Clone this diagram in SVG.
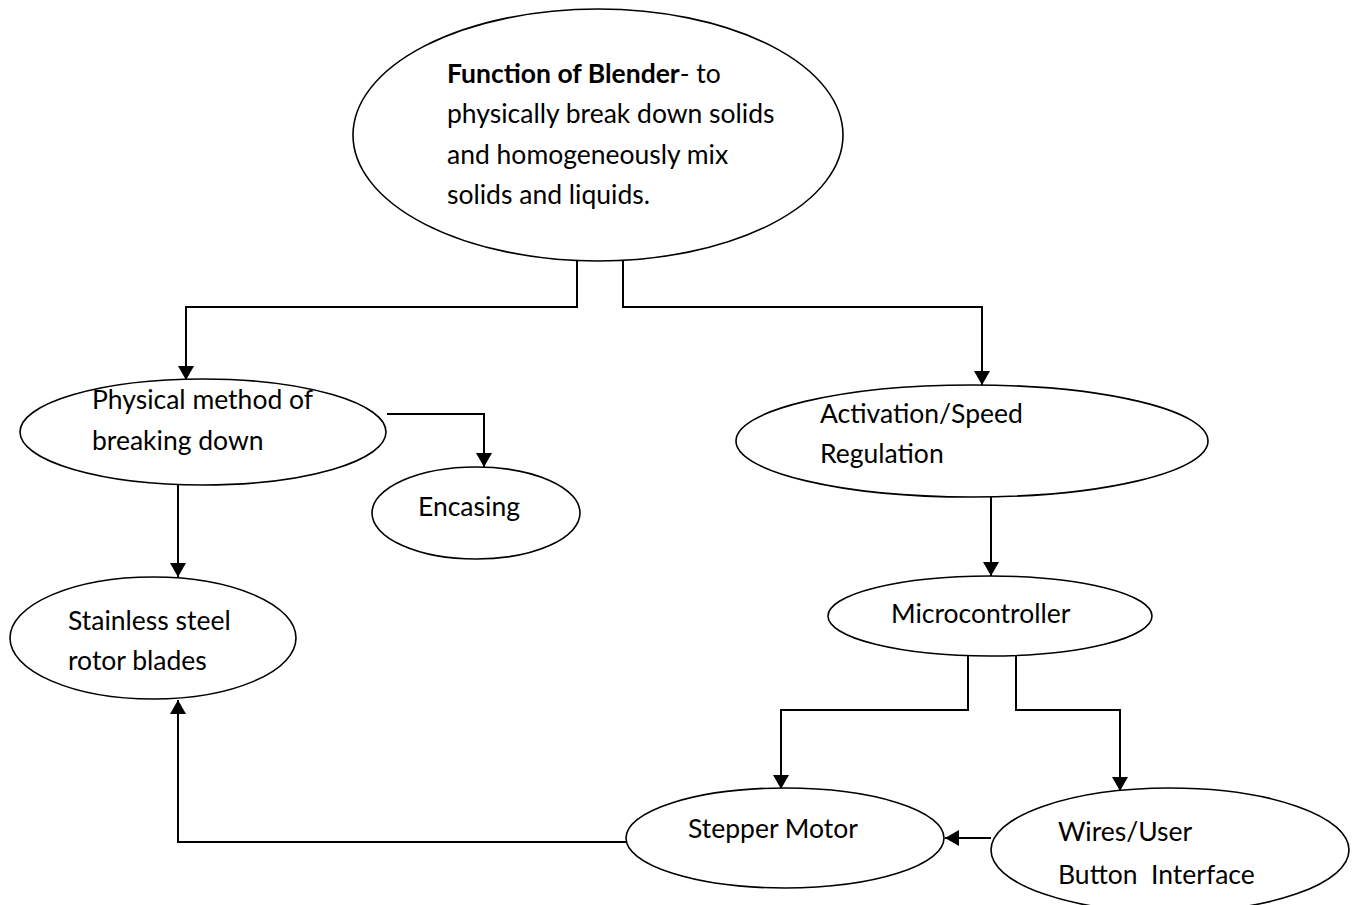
<svg xmlns="http://www.w3.org/2000/svg" width="1352" height="905" viewBox="0 0 1352 905">
<defs>
<marker id="ah" viewBox="0 0 14 16" refX="14" refY="8" markerWidth="14" markerHeight="16" markerUnits="userSpaceOnUse" orient="auto">
<path d="M0,0 L14,8 L0,16 Z" fill="#000"/>
</marker>
</defs>
<style>
.n{fill:#fff;stroke:#000;stroke-width:1.6}
.t{font-family:Lato,"Open Sans","Liberation Sans",sans-serif;font-size:26.5px;fill:#000}
.c{fill:none;stroke:#000;stroke-width:2}
</style>
<rect width="1352" height="905" fill="#fff"/>
<g id="connectors">
<path class="c" d="M577,261 V307 H186 V380" marker-end="url(#ah)"/>
<path class="c" d="M623,261 V307 H982 V385" marker-end="url(#ah)"/>
<path class="c" d="M387,414 H484 V467" marker-end="url(#ah)"/>
<path class="c" d="M178,485 V577" marker-end="url(#ah)"/>
<path class="c" d="M991,497 V576" marker-end="url(#ah)"/>
<path class="c" d="M968,656 V710 H781 V789" marker-end="url(#ah)"/>
<path class="c" d="M1016,656 V710 H1120 V791" marker-end="url(#ah)"/>
<path class="c" d="M991,838 H945" marker-end="url(#ah)"/>
<path class="c" d="M626,842 H178 V700" marker-end="url(#ah)"/>
</g>
<g id="function">
<ellipse class="n" cx="598" cy="135" rx="245" ry="126"/>
<text class="t" x="447" y="83"><tspan font-weight="bold">Function of Blender</tspan>- to</text>
<text class="t" x="447" y="123">physically break down solids</text>
<text class="t" x="447" y="164">and homogeneously mix</text>
<text class="t" x="447" y="204">solids and liquids.</text>
</g>
<g id="physical">
<ellipse class="n" cx="203" cy="432" rx="183" ry="53"/>
<text class="t" x="92" y="409">Physical method of</text>
<text class="t" x="92" y="450">breaking down</text>
</g>
<g id="encasing">
<ellipse class="n" cx="476" cy="513" rx="104" ry="46"/>
<text class="t" x="418" y="516">Encasing</text>
</g>
<g id="stainless">
<ellipse class="n" cx="153" cy="638" rx="143" ry="61"/>
<text class="t" x="68" y="630">Stainless steel</text>
<text class="t" x="68" y="670">rotor blades</text>
</g>
<g id="activation">
<ellipse class="n" cx="972" cy="441" rx="236" ry="56"/>
<text class="t" x="820" y="423">Activation/Speed</text>
<text class="t" x="820" y="463">Regulation</text>
</g>
<g id="microcontroller">
<ellipse class="n" cx="990" cy="616" rx="162" ry="40"/>
<text class="t" x="891" y="623">Microcontroller</text>
</g>
<g id="stepper">
<ellipse class="n" cx="785" cy="838" rx="159" ry="50"/>
<text class="t" x="688" y="838">Stepper Motor</text>
</g>
<g id="wires">
<ellipse class="n" cx="1170" cy="850" rx="179" ry="62"/>
<text class="t" x="1058" y="841">Wires/User</text>
<text class="t" x="1058" y="884" xml:space="preserve">Button  Interface</text>
</g>
</svg>
